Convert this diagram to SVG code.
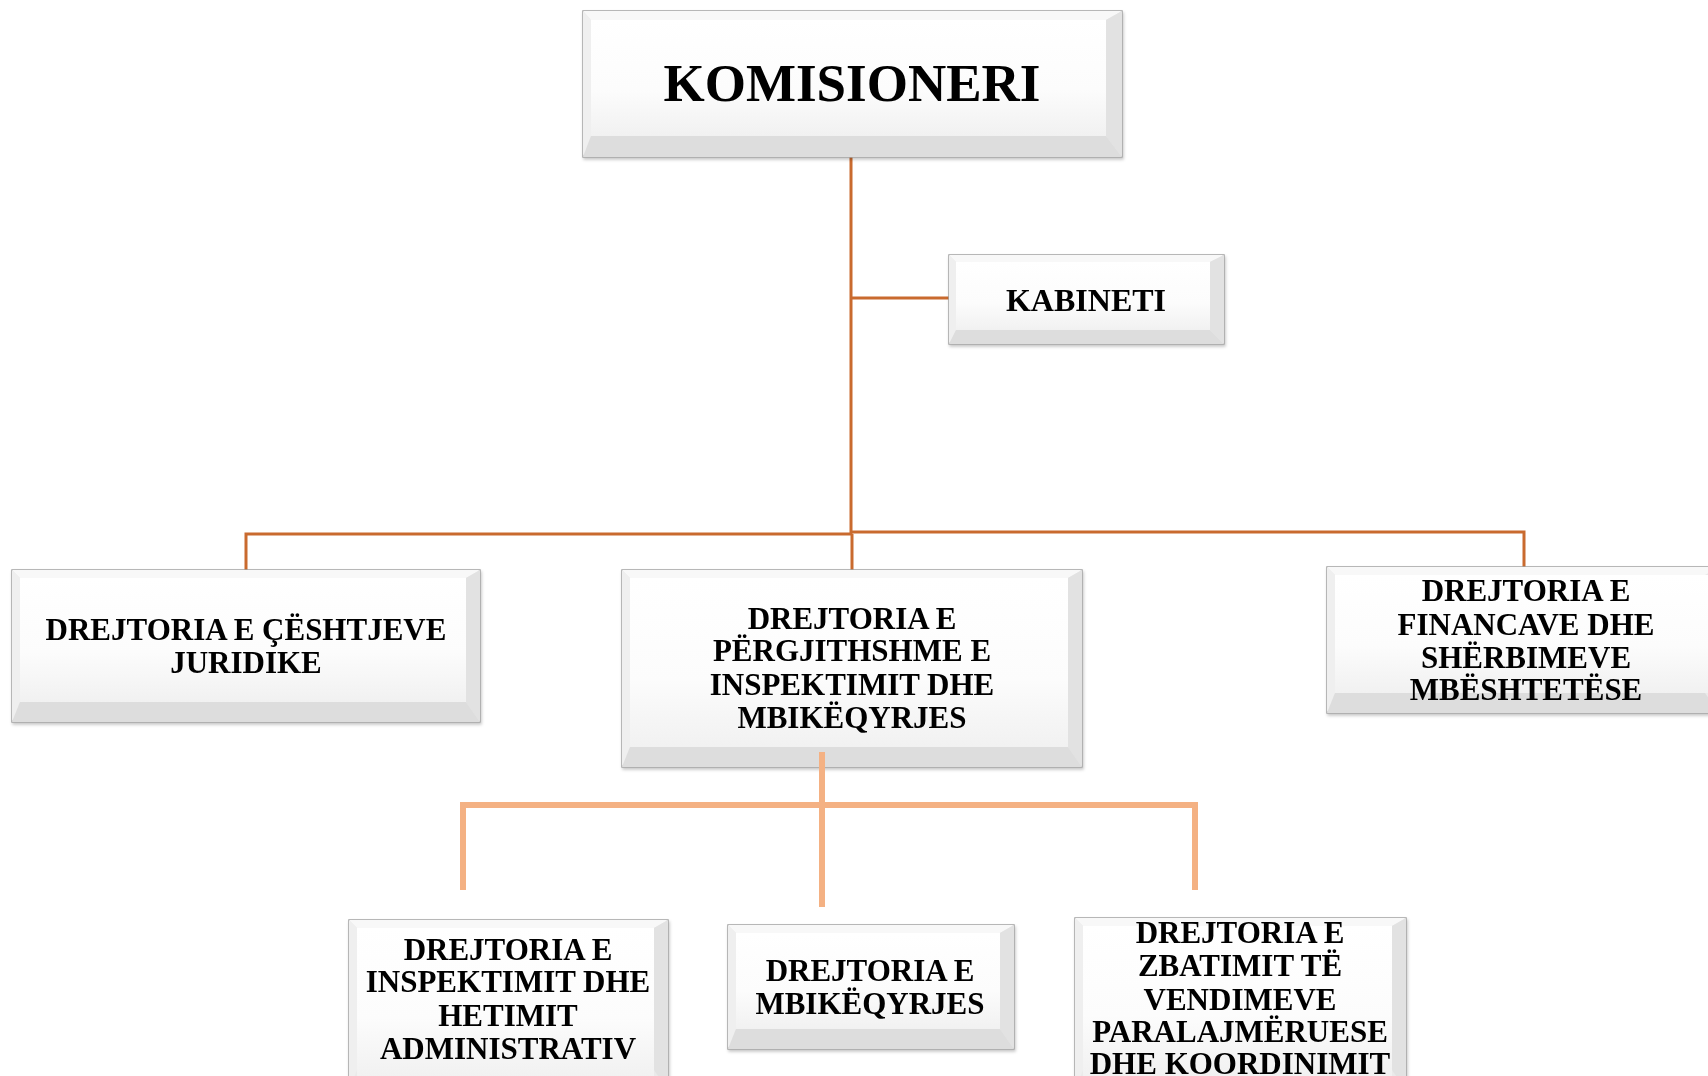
<svg xmlns="http://www.w3.org/2000/svg" width="1708" height="1076" viewBox="0 0 1708 1076">
<defs>
<linearGradient id="face" x1="0" y1="0" x2="0" y2="1">
<stop offset="0" stop-color="#FFFFFF"/>
<stop offset="0.6" stop-color="#FCFCFC"/>
<stop offset="1" stop-color="#F1F1F1"/>
</linearGradient>
<filter id="sh" x="-5%" y="-5%" width="110%" height="115%">
<feDropShadow dx="1" dy="2" stdDeviation="1.5" flood-color="#000" flood-opacity="0.22"/>
</filter>
</defs>
<style>
.o{fill:#EAEAEA;stroke:#A3A3A3;stroke-width:1.5}
.t{fill:#F8F8F8}
.l{fill:#EFEFEF}
.r{fill:#E2E2E2}
.b{fill:#DDDDDD}
.f{fill:url(#face)}
.tx{font-family:"Liberation Serif","Times New Roman",serif;font-weight:bold;font-size:31px;fill:#000;text-anchor:middle}
.c1{stroke:#C96A2E;stroke-width:3;fill:none}
.c2{stroke:#F4B183;stroke-width:6;fill:none}
</style>
<rect width="1708" height="1076" fill="#FFFFFF"/>

<g id="connectors">
<path class="c1" d="M851 157 V534"/>
<path class="c1" d="M851 298 H949"/>
<path class="c1" d="M246 570 V534 H851"/>
<path class="c1" d="M852 534 V570"/>
<path class="c1" d="M851 532 H1524 V567"/>
</g>

<g id="n-komisioneri" filter="url(#sh)">
<rect class="o" x="583" y="11" width="539" height="146"/>
<polygon class="t" points="583,11 1122,11 1106,20 591,20"/>
<polygon class="l" points="583,11 591,20 591,136 583,157"/>
<polygon class="r" points="1122,11 1106,20 1106,136 1122,157"/>
<polygon class="b" points="583,157 1122,157 1106,136 591,136"/>
<rect class="f" x="591" y="20" width="515" height="116"/>
<text class="tx" x="852" y="101" style="font-size:53px">KOMISIONERI</text>
</g>

<g id="n-kabineti" filter="url(#sh)">
<rect class="o" x="949" y="255" width="275" height="89"/>
<polygon class="t" points="949,255 1224,255 1210,262 956,262"/>
<polygon class="l" points="949,255 956,262 956,330 949,344"/>
<polygon class="r" points="1224,255 1210,262 1210,330 1224,344"/>
<polygon class="b" points="949,344 1224,344 1210,330 956,330"/>
<rect class="f" x="956" y="262" width="254" height="68"/>
<text class="tx" x="1086" y="311" style="font-size:32px">KABINETI</text>
</g>

<g id="n-juridike" filter="url(#sh)">
<rect class="o" x="12" y="570" width="468" height="152"/>
<polygon class="t" points="12,570 480,570 466,578 20,578"/>
<polygon class="l" points="12,570 20,578 20,702 12,722"/>
<polygon class="r" points="480,570 466,578 466,702 480,722"/>
<polygon class="b" points="12,722 480,722 466,702 20,702"/>
<rect class="f" x="20" y="578" width="446" height="124"/>
<text class="tx" x="246" y="640">DREJTORIA E ÇËSHTJEVE</text>
<text class="tx" x="246" y="673">JURIDIKE</text>
</g>

<g id="n-pergjithshme" filter="url(#sh)">
<rect class="o" x="622" y="570" width="460" height="197"/>
<polygon class="t" points="622,570 1082,570 1068,578 630,578"/>
<polygon class="l" points="622,570 630,578 630,747 622,767"/>
<polygon class="r" points="1082,570 1068,578 1068,747 1082,767"/>
<polygon class="b" points="622,767 1082,767 1068,747 630,747"/>
<rect class="f" x="630" y="578" width="438" height="169"/>
<text class="tx" x="852" y="629">DREJTORIA E</text>
<text class="tx" x="852" y="661">PËRGJITHSHME  E</text>
<text class="tx" x="852" y="695">INSPEKTIMIT DHE</text>
<text class="tx" x="852" y="728">MBIKËQYRJES</text>
</g>

<g id="n-financave" filter="url(#sh)">
<rect class="o" x="1327" y="567" width="392" height="146"/>
<polygon class="t" points="1327,567 1719,567 1705,575 1335,575"/>
<polygon class="l" points="1327,567 1335,575 1335,693 1327,713"/>
<polygon class="b" points="1327,713 1719,713 1705,693 1335,693"/>
<rect class="f" x="1335" y="575" width="380" height="118"/>
<text class="tx" x="1526" y="601">DREJTORIA E</text>
<text class="tx" x="1526" y="635">FINANCAVE DHE</text>
<text class="tx" x="1526" y="668">SHËRBIMEVE</text>
<text class="tx" x="1526" y="700">MBËSHTETËSE</text>
</g>

<g id="connectors-lower">
<path class="c2" d="M822 752 V907"/>
<path class="c2" d="M463 890 V805 H1195 V890"/>
</g>

<g id="n-inspektimit" filter="url(#sh)">
<rect class="o" x="349" y="920" width="319" height="170"/>
<polygon class="t" points="349,920 668,920 654,928 357,928"/>
<polygon class="l" points="349,920 357,928 357,1070 349,1090"/>
<polygon class="r" points="668,920 654,928 654,1070 668,1090"/>
<rect class="f" x="357" y="928" width="297" height="150"/>
<text class="tx" x="508" y="960">DREJTORIA E</text>
<text class="tx" x="508" y="992">INSPEKTIMIT DHE</text>
<text class="tx" x="508" y="1026">HETIMIT</text>
<text class="tx" x="508" y="1059">ADMINISTRATIV</text>
</g>

<g id="n-mbikeqyrjes" filter="url(#sh)">
<rect class="o" x="728" y="925" width="286" height="124"/>
<polygon class="t" points="728,925 1014,925 1000,933 736,933"/>
<polygon class="l" points="728,925 736,933 736,1029 728,1049"/>
<polygon class="r" points="1014,925 1000,933 1000,1029 1014,1049"/>
<polygon class="b" points="728,1049 1014,1049 1000,1029 736,1029"/>
<rect class="f" x="736" y="933" width="264" height="96"/>
<text class="tx" x="870" y="981">DREJTORIA E</text>
<text class="tx" x="870" y="1014">MBIKËQYRJES</text>
</g>

<g id="n-zbatimit" filter="url(#sh)">
<rect class="o" x="1075" y="918" width="331" height="172"/>
<polygon class="t" points="1075,918 1406,918 1392,926 1083,926"/>
<polygon class="l" points="1075,918 1083,926 1083,1070 1075,1090"/>
<polygon class="r" points="1406,918 1392,926 1392,1070 1406,1090"/>
<rect class="f" x="1083" y="926" width="309" height="150"/>
<text class="tx" x="1240" y="943">DREJTORIA E</text>
<text class="tx" x="1240" y="976">ZBATIMIT TË</text>
<text class="tx" x="1240" y="1010">VENDIMEVE</text>
<text class="tx" x="1240" y="1042">PARALAJMËRUESE</text>
<text class="tx" x="1240" y="1074">DHE KOORDINIMIT</text>
</g>
</svg>
